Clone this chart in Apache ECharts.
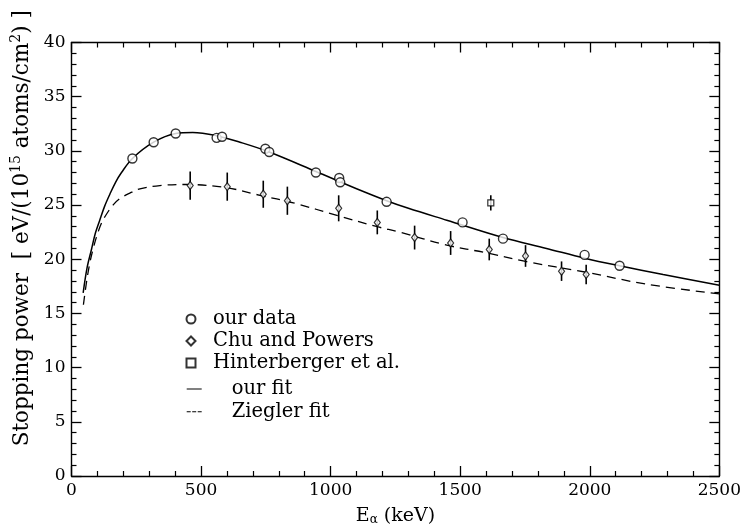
<!DOCTYPE html>
<html>
<head>
<meta charset="utf-8">
<script src="https://cdn.jsdelivr.net/npm/echarts@6/dist/echarts.min.js"></script>
<style>
html,body{margin:0;padding:0;background:#fff;}
#c{width:744px;height:531px;}
</style>
</head>
<body>
<div id="c"></div>
<script>
// our data (circles): [E (keV), stopping power]
var ourDataE = [235, 317, 402, 560, 581, 748, 763, 943, 1033, 1037, 1216, 1509, 1665, 1980, 2115];
var ourDataS = [29.3, 30.8, 31.6, 31.2, 31.3, 30.2, 29.9, 28.0, 27.5, 27.1, 25.3, 23.4, 21.9, 20.4, 19.4];

// Chu and Powers (diamonds with error bars)
var chuE   = [458, 601, 740, 833, 1031, 1180, 1324, 1463, 1612, 1752, 1891, 1986];
var chuS   = [26.8, 26.7, 26.0, 25.4, 24.7, 23.4, 22.0, 21.5, 20.9, 20.3, 18.9, 18.6];
var chuErr = [1.3, 1.3, 1.25, 1.3, 1.2, 1.1, 1.1, 1.1, 1.0, 1.0, 0.9, 0.9];

// Hinterberger et al. (square)
var hintE = [1618];
var hintS = [25.2];
var hintErr = [0.7];

// our fit (solid)
var fitE = [45, 60, 77, 92, 109, 128, 148, 170, 193, 235, 317, 402, 468, 560, 650, 763, 943, 1100, 1216, 1300, 1448, 1665, 1833, 1980, 2115, 2283, 2500];
var fitS = [16.9, 19.2, 20.9, 22.4, 23.6, 24.9, 26.0, 27.1, 28.0, 29.3, 30.8, 31.6, 31.7, 31.4, 30.8, 29.9, 28.1, 26.5, 25.4, 24.7, 23.6, 22.0, 21.0, 20.1, 19.4, 18.6, 17.6];

// Ziegler fit (dashed)
var zieE = [46, 58, 71, 84, 97, 115, 136, 160, 187, 225, 264, 341, 444, 599, 727, 856, 1031, 1180, 1267, 1448, 1600, 1752, 1986, 2219, 2500];
var zieS = [15.8, 17.9, 19.7, 21.0, 22.1, 23.3, 24.2, 25.0, 25.6, 26.1, 26.5, 26.8, 26.9, 26.6, 25.9, 25.2, 24.0, 23.0, 22.5, 21.3, 20.6, 19.8, 18.8, 17.7, 16.8];

var xTicks = [0, 500, 1000, 1500, 2000, 2500];
var yTicks = [0, 5, 10, 15, 20, 25, 30, 35, 40];

function pairs(a, b) { return a.map(function (v, i) { return [v, b[i]]; }); }
function errRows(a, b, e) { return a.map(function (v, i) { return [v, b[i] - e[i], b[i] + e[i]]; }); }

var serifFont = 'DejaVu Serif';
var chart = echarts.init(document.getElementById('c'), null, {renderer: 'canvas'});

var errRender = function (params, api) {
  var p1 = api.coord([api.value(0), api.value(1)]);
  var p2 = api.coord([api.value(0), api.value(2)]);
  return {
    type: 'line',
    shape: {x1: p1[0], y1: p1[1], x2: p2[0], y2: p2[1]},
    style: {stroke: '#000', lineWidth: 1.6}
  };
};

function axisCommon() {
  return {
    type: 'value',
    axisLine: {show: true, onZero: false, lineStyle: {color: '#000', width: 1.4}},
    axisTick: {show: true, inside: true, length: 10, lineStyle: {color: '#000', width: 1.3}},
    minorTick: {show: true, splitNumber: 5, length: 5, lineStyle: {color: '#000', width: 1.2}},
    splitLine: {show: false},
    minorSplitLine: {show: false}
  };
}
function plain(v) { return String(v); }

var solidIcon = 'path://M0,0h15v1h-15z';
var dashIcon = 'path://M0,0h4v1h-4zM5.5,0h4v1h-4zM11,0h4v1h-4z';

var option = {
  backgroundColor: '#fff',
  animation: false,
  grid: {left: 71.5, right: 24.5, top: 42.5, bottom: 47, containLabel: false},
  xAxis: [
    Object.assign(axisCommon(), {
      min: xTicks[0], max: xTicks[xTicks.length - 1], interval: 500,
      position: 'bottom',
      axisLabel: {color: '#000', fontFamily: serifFont, fontSize: 17, margin: 6, formatter: plain},
      name: '{a|E}{s|α}{a| (keV)}',
      nameLocation: 'middle', nameGap: 31,
      nameTextStyle: {
        color: '#000',
        rich: {
          a: {fontFamily: serifFont, fontSize: 19, color: '#000'},
          s: {fontFamily: serifFont, fontSize: 12, color: '#000', verticalAlign: 'bottom', padding: [7, 0, 0, 0]}
        }
      }
    }),
    Object.assign(axisCommon(), {
      min: xTicks[0], max: xTicks[xTicks.length - 1], interval: 500,
      position: 'top',
      axisLabel: {show: false}
    })
  ],
  yAxis: [
    Object.assign(axisCommon(), {
      min: yTicks[0], max: yTicks[yTicks.length - 1], interval: 5,
      position: 'left',
      axisLabel: {color: '#000', fontFamily: serifFont, fontSize: 17, margin: 6, formatter: plain},
      name: '{a|Stopping power  [ eV/(10}{s|15}{a| atoms/cm}{s|2}{a|) ]}',
      nameLocation: 'middle', nameGap: 36, nameRotate: 90,
      nameTextStyle: {
        color: '#000',
        padding: [0, 0, 0, 62],
        rich: {
          a: {fontFamily: serifFont, fontSize: 21.5, color: '#000', lineHeight: 25},
          s: {fontFamily: serifFont, fontSize: 14, color: '#000', verticalAlign: 'top', lineHeight: 25}
        }
      }
    }),
    Object.assign(axisCommon(), {
      min: yTicks[0], max: yTicks[yTicks.length - 1], interval: 5,
      position: 'right',
      axisLabel: {show: false}
    })
  ],
  legend: [
    {
      orient: 'vertical', left: 180.5, top: 304, itemGap: 2,
      itemWidth: 9, itemHeight: 9,
      textStyle: {fontFamily: serifFont, fontSize: 19.5, lineHeight: 20, color: '#000', padding: [0, 0, 0, 12.5]},
      data: [
        {name: 'our data', icon: 'circle'},
        {name: 'Chu and Powers', icon: 'diamond'},
        {name: 'Hinterberger et al.', icon: 'rect'}
      ],
      selectedMode: false
    },
    {
      orient: 'vertical', left: 181.7, top: 374, itemGap: 2.7,
      itemWidth: 15, itemHeight: 1.3,
      textStyle: {fontFamily: serifFont, fontSize: 19.5, lineHeight: 20, color: '#000', padding: [0, 0, 0, 25]},
      data: [
        {name: 'our fit', icon: solidIcon},
        {name: 'Ziegler fit', icon: dashIcon}
      ],
      selectedMode: false
    }
  ],
  series: [
    {
      name: 'our fit', type: 'line', smooth: 0.35, symbol: 'none', showSymbol: false,
      data: pairs(fitE, fitS),
      lineStyle: {color: '#000', width: 1.5, type: 'solid'},
      itemStyle: {color: '#000'}, z: 2
    },
    {
      name: 'Ziegler fit', type: 'line', smooth: 0.35, symbol: 'none', showSymbol: false,
      data: pairs(zieE, zieS),
      lineStyle: {color: '#000', width: 1.3, type: [9, 6]},
      itemStyle: {color: '#000'}, z: 2
    },
    {
      name: 'Chu err', type: 'custom', renderItem: errRender,
      data: errRows(chuE, chuS, chuErr), z: 3
    },
    {
      name: 'Hint err', type: 'custom', renderItem: errRender,
      data: errRows(hintE, hintS, hintErr), z: 3
    },
    {
      name: 'our data', type: 'scatter', symbol: 'circle', symbolSize: 9,
      data: pairs(ourDataE, ourDataS),
      itemStyle: {color: '#fff', borderColor: '#000', borderWidth: 1.4}, z: 4
    },
    {
      name: 'Chu and Powers', type: 'scatter', symbol: 'diamond', symbolSize: [6, 8],
      data: pairs(chuE, chuS),
      itemStyle: {color: '#fff', borderColor: '#000', borderWidth: 1.2}, z: 4
    },
    {
      name: 'Hinterberger et al.', type: 'scatter', symbol: 'rect', symbolSize: 6,
      data: pairs(hintE, hintS),
      itemStyle: {color: '#fff', borderColor: '#000', borderWidth: 1.2}, z: 4
    }
  ]
};
chart.setOption(option);
</script>
</body>
</html>
